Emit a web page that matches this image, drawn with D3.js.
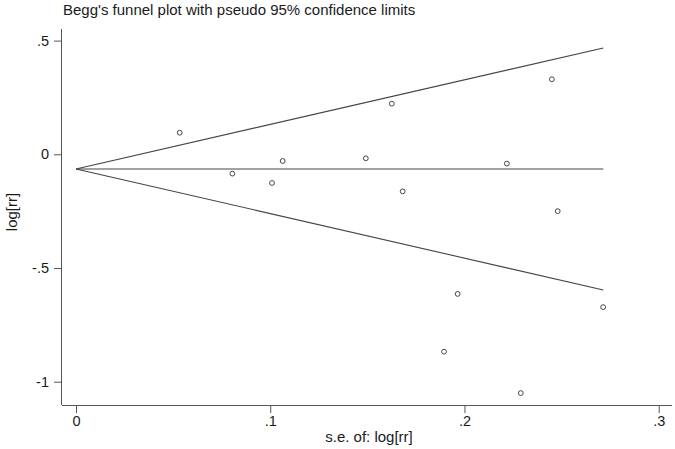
<!DOCTYPE html>
<html><head><meta charset="utf-8">
<script src="https://cdn.jsdelivr.net/npm/d3@7"></script>
<style>body{margin:0;background:#fff}svg{display:block}text{font-family:"Liberation Sans",Arial,sans-serif;fill:#1a1a1a}</style>
</head><body><svg id="c" width="675" height="449"></svg>
<script>
const seValues = [0.0534, 0.0805, 0.1009, 0.1064, 0.1492, 0.1626, 0.1682, 0.1895, 0.1965, 0.2218, 0.229, 0.245, 0.248, 0.2714];
const logRR = [0.095, -0.085, -0.126, -0.0295, -0.0176, 0.2225, -0.163, -0.868, -0.614, -0.041, -1.05, 0.330, -0.250, -0.672];
const pooled = -0.0646;
const maxSE = 0.2715;
const xTicks = [0, 0.1, 0.2, 0.3];
const xTickLabels = ["0", ".1", ".2", ".3"];
const yTicks = [0.5, 0, -0.5, -1];
const yTickLabels = [".5", "0", "-.5", "-1"];
const title = "Begg's funnel plot with pseudo 95% confidence limits";

const svg = d3.select("#c");
const x = d3.scaleLinear().domain([0, 0.3]).range([76, 658.7]);
const y = d3.scaleLinear().domain([0, -1]).range([154.3, 381.7]);
const x0 = 62, y0 = 405;

svg.append("text").attr("x", 63).attr("y", 15).attr("font-size", 15).text(title);

// axes
const axisCol = "#555";
const xAxis = d3.axisBottom(x).tickValues(xTicks).tickFormat((d,i)=>xTickLabels[i]).tickSize(8).tickPadding(3);
const gx = svg.append("g").attr("transform", `translate(0,${y0})`).call(xAxis);
gx.select(".domain").attr("d", `M${x0},0.5H672`).attr("stroke", axisCol);
gx.selectAll(".tick line").attr("stroke", axisCol);
gx.selectAll(".tick text").attr("font-size", 14.5).attr("fill", "#1a1a1a").attr("font-family", "Liberation Sans, Arial, sans-serif");

const yAxis = d3.axisLeft(y).tickValues(yTicks).tickFormat((d,i)=>yTickLabels[i]).tickSize(8).tickPadding(5);
const gy = svg.append("g").attr("transform", `translate(${x0},0)`).call(yAxis);
gy.select(".domain").attr("d", `M-0.5,29V${y0}`).attr("stroke", axisCol);
gy.selectAll(".tick line").attr("stroke", axisCol);
gy.selectAll(".tick text").attr("font-size", 14.5).attr("fill", "#1a1a1a").attr("font-family", "Liberation Sans, Arial, sans-serif");

svg.append("text").attr("x", 369).attr("y", 442).attr("text-anchor", "middle").attr("font-size", 15).text("s.e. of: log[rr]");
svg.append("text").attr("transform", "translate(17,212) rotate(-90)").attr("text-anchor", "middle").attr("font-size", 15).text("log[rr]");

// funnel lines
const lineCol = "#444";
const lines = [
  [[0, pooled], [maxSE, pooled]],
  [[0, pooled], [maxSE, pooled + 1.96 * maxSE]],
  [[0, pooled], [maxSE, pooled - 1.96 * maxSE]]
];
const lg = d3.line().x(d => x(d[0])).y(d => y(d[1]));
svg.selectAll("path.fl").data(lines).join("path").attr("class", "fl")
  .attr("d", lg).attr("fill", "none").attr("stroke", lineCol).attr("stroke-width", 1.1);

// points
svg.selectAll("circle.pt").data(seValues.map((s, i) => [s, logRR[i]])).join("circle").attr("class", "pt")
  .attr("cx", d => x(d[0])).attr("cy", d => y(d[1])).attr("r", 2.4)
  .attr("fill", "none").attr("stroke", "#333").attr("stroke-width", 0.9);
</script></body></html>
